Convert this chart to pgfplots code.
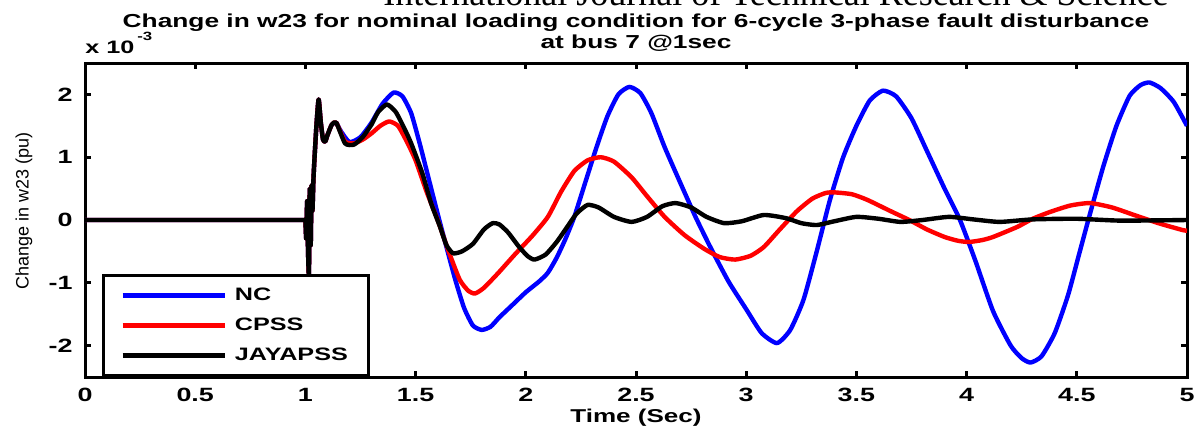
\documentclass[border=0pt]{standalone}
\usepackage{fontspec}
\setmainfont{Liberation Sans}[FakeStretch=1.4]
\newfontfamily\plainsans{Liberation Sans}
\newfontfamily\seriff{Liberation Serif}
\usepackage{pgfplots}
\pgfplotsset{compat=1.18}
\newcommand\nf{\fontsize{9}{9}\selectfont}
\newcommand\tf{\fontsize{9.6}{9.6}\selectfont}
\begin{document}
\begin{tikzpicture}
\path[use as bounding box] (0,0) rectangle (597.5pt,-215pt);
\begin{axis}[
  at={(42.5pt,-188.5pt)}, anchor=south west,
  scale only axis, width=551pt, height=157pt,
  xmin=0, xmax=5, ymin=-2.5, ymax=2.5,
  axis line style={line width=1.5pt},
  every tick/.style={black, line width=1.5pt},
  major tick length=3pt,
  xtick={0,0.5,1,1.5,2,2.5,3,3.5,4,4.5,5},
  xticklabels={0,0.5,1,1.5,2,2.5,3,3.5,4,4.5,5},
  ytick={-2,-1,0,1,2},
  yticklabels={-2,-1,0,1,2},
  xticklabel style={font=\bfseries\tf, inner sep=0pt, anchor=north},
  yticklabel style={font=\bfseries\tf, inner sep=0pt, anchor=east},
  xticklabel shift=5.5pt,
  yticklabel shift=6pt,
  legend cell align=left,
  legend style={at={(rel axis cs:0,0)}, anchor=south west, xshift=8.5pt,
    draw=black, line width=1.5pt, fill=white,
    inner xsep=8.5pt, inner ysep=2.5pt, column sep=2pt,
    font=\bfseries\nf,
    nodes={inner sep=2pt, text height=8pt, text depth=3pt}},
  legend image code/.code={\draw[#1] (0pt,0pt) -- (51pt,0pt);},
  every axis plot/.append style={line width=2.2pt, line join=round, smooth, tension=0.35},
]
\addplot[color={rgb,255:red,0;green,0;blue,255}] coordinates {
(0,0) (0.5,0) (0.99,0) (0.997,0) (1.0,0) (1.004,-0.3) (1.008,0.3) (1.012,-0.5) (1.016,-0.85) (1.02,0.5) (1.024,-0.4) (1.028,0.55) (1.032,0.15) (1.036,0.6) (1.04,0.9) (1.05,1.5) (1.06,1.92) (1.07,1.55) (1.08,1.28) (1.09,1.25) (1.10,1.35) (1.12,1.52) (1.14,1.55) (1.16,1.42) (1.2,1.24)
(1.25,1.32) (1.30,1.55) (1.35,1.85) (1.40,2.03) (1.44,1.97) (1.48,1.7) (1.52,1.2) (1.56,0.65) (1.60,0.1) (1.64,-0.43) (1.68,-0.95) (1.72,-1.4) (1.76,-1.68) (1.80,-1.75) (1.84,-1.7) (1.88,-1.55) (1.94,-1.35) (2.00,-1.15) (2.06,-0.98) (2.10,-0.84) (2.14,-0.6) (2.18,-0.3) (2.22,0.05) (2.27,0.6) (2.32,1.15) (2.37,1.65) (2.42,2.0) (2.47,2.12) (2.52,2.02) (2.57,1.7) (2.63,1.16) (2.70,0.6) (2.77,0.05) (2.84,-0.45) (2.92,-0.98) (3.00,-1.42) (3.07,-1.8) (3.14,-1.96) (3.20,-1.75) (3.26,-1.27) (3.32,-0.5) (3.38,0.32) (3.44,1.0) (3.50,1.5) (3.56,1.9) (3.62,2.06) (3.68,1.97) (3.75,1.62) (3.82,1.1) (3.90,0.5) (3.97,0) (4.04,-0.65) (4.12,-1.45) (4.20,-2.0) (4.25,-2.2) (4.29,-2.27) (4.34,-2.17) (4.40,-1.8) (4.46,-1.2) (4.51,-0.55) (4.56,0.1) (4.62,0.85) (4.68,1.5) (4.74,1.98) (4.79,2.15) (4.83,2.19) (4.88,2.1) (4.94,1.88) (5.0,1.5)
};
\addlegendentry{NC}
\addplot[color={rgb,255:red,255;green,0;blue,0}] coordinates {
(0,0) (0.5,0) (0.99,0) (0.997,0) (1.0,0) (1.004,-0.3) (1.008,0.3) (1.012,-0.5) (1.016,-0.85) (1.02,0.5) (1.024,-0.4) (1.028,0.55) (1.032,0.15) (1.036,0.6) (1.04,0.9) (1.05,1.5) (1.06,1.92) (1.07,1.55) (1.08,1.28) (1.09,1.25) (1.10,1.35) (1.12,1.52) (1.14,1.55)
(1.18,1.25) (1.22,1.22) (1.26,1.28) (1.30,1.38) (1.34,1.5) (1.38,1.57) (1.42,1.5) (1.46,1.25) (1.50,0.95) (1.55,0.45) (1.60,0) (1.65,-0.5) (1.70,-0.95) (1.74,-1.13) (1.77,-1.17) (1.81,-1.08) (1.876,-0.84) (1.95,-0.55) (2.03,-0.25) (2.10,0.05) (2.16,0.45) (2.22,0.78) (2.28,0.95) (2.34,1.0) (2.40,0.93) (2.48,0.68) (2.55,0.38) (2.63,0.05) (2.72,-0.24) (2.81,-0.46) (2.88,-0.59) (2.95,-0.63) (3.02,-0.57) (3.08,-0.43) (3.15,-0.16) (3.23,0.14) (3.30,0.34) (3.36,0.43) (3.40,0.44) (3.48,0.41) (3.55,0.32) (3.65,0.15) (3.74,0) (3.82,-0.15) (3.90,-0.27) (3.96,-0.33) (4.01,-0.35) (4.07,-0.32) (4.12,-0.27) (4.23,-0.11) (4.30,0.02) (4.38,0.13) (4.47,0.23) (4.56,0.27) (4.66,0.2) (4.76,0.08) (4.87,-0.05) (4.98,-0.16) (5.0,-0.17)
};
\addlegendentry{CPSS}
\addplot[color=black] coordinates {
(0,0) (0.5,0) (0.99,0) (0.997,0) (1.0,0) (1.004,-0.3) (1.008,0.3) (1.012,-0.5) (1.016,-0.85) (1.02,0.5) (1.024,-0.4) (1.028,0.55) (1.032,0.15) (1.036,0.6) (1.04,0.9) (1.05,1.5) (1.06,1.92) (1.07,1.55) (1.08,1.28) (1.09,1.25) (1.10,1.35) (1.12,1.52) (1.14,1.55)
(1.18,1.22) (1.22,1.2) (1.26,1.32) (1.30,1.52) (1.33,1.72) (1.37,1.84) (1.41,1.72) (1.45,1.45) (1.48,1.22) (1.53,0.75) (1.57,0.27) (1.61,-0.1) (1.64,-0.4) (1.67,-0.53) (1.71,-0.5) (1.76,-0.38) (1.81,-0.15) (1.85,-0.05) (1.88,-0.07) (1.92,-0.2) (1.97,-0.43) (2.01,-0.58) (2.04,-0.63) (2.09,-0.55) (2.14,-0.35) (2.18,-0.15) (2.23,0.1) (2.28,0.24) (2.33,0.2) (2.40,0.05) (2.48,-0.03) (2.55,0.05) (2.62,0.22) (2.68,0.27) (2.75,0.2) (2.82,0.05) (2.90,-0.05) (2.98,-0.02) (3.08,0.08) (3.18,0.03) (3.25,-0.05) (3.32,-0.08) (3.40,-0.02) (3.50,0.05) (3.60,0.02) (3.70,-0.03) (3.80,0) (3.92,0.05) (4.03,0.01) (4.15,-0.03) (4.3,0.01) (4.5,0.02) (4.7,-0.01) (5.0,0)
};
\addlegendentry{JAYAPSS}
\end{axis}
\begin{scope}[x=0.5pt,y=-0.5pt]
\node[anchor=base west, inner sep=0pt, font=\seriff\fontsize{18}{18}\selectfont] at (383,5) {International Journal of Technical Research \& Science};
\node[anchor=base, inner sep=0pt, font=\bfseries\fontsize{9.4}{9.4}\selectfont] at (636,27) {Change in w23 for nominal loading condition for 6-cycle 3-phase fault disturbance};
\node[anchor=base, inner sep=0pt, font=\bfseries\fontsize{9.4}{9.4}\selectfont] at (636,48) {at bus 7 @1sec};
\node[anchor=base west, inner sep=0pt, font=\bfseries\nf] at (85,53) {x 10};
\node[anchor=base west, inner sep=0pt, font=\bfseries\fontsize{6}{6}\selectfont] at (137,40) {-3};
\node[anchor=base, inner sep=0pt, font=\bfseries\fontsize{9.3}{9.3}\selectfont] at (636,422) {Time (Sec)};
\node[rotate=90, inner sep=0pt, font=\plainsans\nf] at (24,211) {Change in w23 (pu)};
\end{scope}
\end{tikzpicture}
\end{document}
